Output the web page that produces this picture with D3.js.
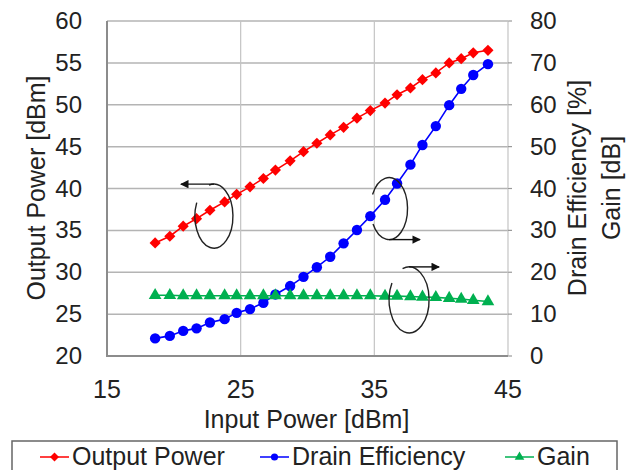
<!DOCTYPE html>
<html>
<head>
<meta charset="utf-8">
<script src="https://cdn.jsdelivr.net/npm/d3@7"></script>
<style>
  body { margin: 0; background: #fff; }
  svg { display: block; font-family: "Liberation Sans", Arial, sans-serif; }
</style>
</head>
<body>
<svg width="635" height="470"></svg>
<script>
// Data
const inputPower = [18.6, 19.7, 20.7, 21.7, 22.7, 23.8, 24.7, 25.7, 26.7, 27.6,
  28.7, 29.7, 30.7, 31.7, 32.7, 33.7, 34.7, 35.8, 36.7, 37.7,
  38.6, 39.6, 40.6, 41.5, 42.4, 43.5];
const outputPower = [33.5, 34.3, 35.5, 36.4, 37.4, 38.4, 39.3, 40.2, 41.2, 42.2,
  43.3, 44.4, 45.4, 46.4, 47.3, 48.4, 49.3, 50.2, 51.2, 52.0,
  53.0, 53.8, 55.0, 55.5, 56.2, 56.5];
const drainEff = [4.2, 4.8, 6.0, 6.6, 8.0, 8.8, 10.3, 11.2, 12.7, 14.7,
  16.7, 18.9, 21.2, 23.7, 26.9, 30.1, 33.4, 37.3, 41.2, 45.7,
  50.4, 54.9, 59.9, 63.8, 67.1, 69.7];
const gain = [14.5, 14.5, 14.4, 14.4, 14.4, 14.4, 14.4, 14.4, 14.4, 14.4,
  14.4, 14.4, 14.4, 14.4, 14.4, 14.4, 14.4, 14.3, 14.3, 14.2,
  14.1, 14.0, 13.8, 13.6, 13.3, 13.0];
const xTicks = [15, 25, 35, 45];
const leftTicks = [20, 25, 30, 35, 40, 45, 50, 55, 60];
const rightTicks = [0, 10, 20, 30, 40, 50, 60, 70, 80];
const legendNames = ['Output Power', 'Drain Efficiency', 'Gain'];

const svg = d3.select('svg');
const colors = {op: '#ff0000', de: '#0000ff', g: '#00b050'};

const x = d3.scaleLinear().domain([15, 45]).range([107, 508]);
const yL = d3.scaleLinear().domain([20, 60]).range([356, 21]);
const yR = d3.scaleLinear().domain([0, 80]).range([356, 21]);

// grid
svg.append('g').selectAll('line.h')
  .data(leftTicks)
  .enter().append('line')
    .attr('x1', x(15)).attr('x2', x(45))
    .attr('y1', d => yL(d)).attr('y2', d => yL(d))
    .attr('stroke', '#b4b4b4').attr('stroke-width', 1.5);
svg.append('g').selectAll('line.v')
  .data([25, 35, 45])
  .enter().append('line')
    .attr('x1', d => x(d)).attr('x2', d => x(d))
    .attr('y1', yL(20)).attr('y2', yL(60))
    .attr('stroke', '#c4c4c4').attr('stroke-width', 1.2);

// right axis small ticks
svg.append('g').selectAll('line')
  .data(rightTicks)
  .enter().append('line')
    .attr('x1', x(45)).attr('x2', x(45) + 4)
    .attr('y1', d => yR(d)).attr('y2', d => yR(d))
    .attr('stroke', '#999').attr('stroke-width', 1.2);

// left + bottom axis lines
svg.append('path')
  .attr('d', `M${x(15)},${yL(60)} V${yL(20)} H${x(45)}`)
  .attr('fill', 'none').attr('stroke', '#8c8c8c').attr('stroke-width', 2);

// tick labels
svg.append('g').selectAll('text')
  .data(leftTicks)
  .enter().append('text')
    .attr('x', 82).attr('y', d => yL(d) + 8)
    .attr('text-anchor', 'end').attr('font-size', 24).attr('fill', '#222')
    .text(d => d);
svg.append('g').selectAll('text')
  .data(rightTicks)
  .enter().append('text')
    .attr('x', 530).attr('y', d => yR(d) + 8)
    .attr('text-anchor', 'start').attr('font-size', 24).attr('fill', '#222')
    .text(d => d);
svg.append('g').selectAll('text')
  .data(xTicks)
  .enter().append('text')
    .attr('x', d => x(d)).attr('y', 398)
    .attr('text-anchor', 'middle').attr('font-size', 25).attr('fill', '#222')
    .text(d => d);

// axis titles
svg.append('text')
  .attr('transform', `translate(${x(30) - 1},428)`)
  .attr('text-anchor', 'middle').attr('font-size', 25).attr('fill', '#222')
  .text('Input Power [dBm]');
svg.append('text')
  .attr('transform', 'translate(45,188) rotate(-90)')
  .attr('text-anchor', 'middle').attr('font-size', 25).attr('fill', '#222')
  .text('Output Power [dBm]');
svg.append('text')
  .attr('transform', 'translate(586,188) rotate(-90)')
  .attr('text-anchor', 'middle').attr('font-size', 25).attr('fill', '#222')
  .text('Drain Efficiency [%]');
svg.append('text')
  .attr('transform', 'translate(620,188) rotate(-90)')
  .attr('text-anchor', 'middle').attr('font-size', 25).attr('fill', '#222')
  .text('Gain [dB]');

// series
const series = [
  {key: 'op', vals: outputPower, y: yL, sym: d3.symbolSquare, size: 62, rot: 45},
  {key: 'de', vals: drainEff, y: yR, sym: d3.symbolCircle, size: 85, rot: 0},
  {key: 'g', vals: gain, y: yR, sym: d3.symbolTriangle, size: 70, rot: 0},
];

series.forEach(s => {
  const pts = inputPower.map((xv, i) => [x(xv), s.y(s.vals[i])]);
  svg.append('path')
    .attr('d', d3.line()(pts))
    .attr('fill', 'none')
    .attr('stroke', colors[s.key])
    .attr('stroke-width', 1.6);
  svg.append('g').selectAll('path')
    .data(pts)
    .enter().append('path')
      .attr('transform', d => `translate(${d[0]},${d[1]}) rotate(${s.rot})`)
      .attr('d', d3.symbol().type(s.sym).size(s.size))
      .attr('fill', colors[s.key]);
});

// annotations: loops with arrows
svg.append('defs').append('marker')
  .attr('id', 'arrowhead')
  .attr('viewBox', '0 -5 10 10')
  .attr('refX', 9).attr('refY', 0)
  .attr('markerWidth', 8).attr('markerHeight', 6)
  .attr('orient', 'auto')
  .append('path')
    .attr('d', 'M0,-5L10,0L0,5')
    .attr('fill', '#111');

const loops = [
  {cx: 23.0, cy: 36.7, rx: 19, ry: 32, gapFrom: 205, gapTo: 255, arrowAt: 270, dx: -33},
  {cx: 36.1, cy: 37.6, rx: 18.5, ry: 31, gapFrom: 150, gapTo: 207, arrowAt: 90, dx: 31},
  {cx: 37.6, cy: 26.7, rx: 20, ry: 33, gapFrom: 211, gapTo: 251, arrowAt: 270, dx: 30},
];
const rad = Math.PI / 180;

loops.forEach(l => {
  const cx = x(l.cx), cy = yL(l.cy);
  const pt = t => [cx + l.rx * Math.cos(t * rad), cy + l.ry * Math.sin(t * rad)];
  const s = pt(l.gapTo), e = pt(l.gapFrom + 360);
  svg.append('path')
    .attr('d', `M${s[0]},${s[1]} A${l.rx},${l.ry} 0 1 1 ${e[0]},${e[1]}`)
    .attr('fill', 'none').attr('stroke', '#222').attr('stroke-width', 1.4);
  const a = pt(l.arrowAt);
  svg.append('line')
    .attr('x1', a[0]).attr('y1', a[1])
    .attr('x2', a[0] + l.dx).attr('y2', a[1])
    .attr('stroke', '#111').attr('stroke-width', 1.4)
    .attr('marker-end', 'url(#arrowhead)');
});

// legend
const legend = svg.append('g');
legend.append('rect')
  .attr('x', 12).attr('y', 441).attr('width', 605).attr('height', 40)
  .attr('fill', '#fff').attr('stroke', '#666').attr('stroke-width', 1.5);
const legendX = [40, 260, 505];
const legendSym = [d3.symbolSquare, d3.symbolCircle, d3.symbolTriangle];
const legendRot = [45, 0, 0];
const legendCol = [colors.op, colors.de, colors.g];
legendNames.forEach((name, i) => {
  const lx = legendX[i];
  legend.append('line')
    .attr('x1', lx).attr('x2', lx + 29)
    .attr('y1', 457).attr('y2', 457)
    .attr('stroke', legendCol[i]).attr('stroke-width', 1.5);
  legend.append('path')
    .attr('transform', `translate(${lx + 14.5},457) rotate(${legendRot[i]})`)
    .attr('d', d3.symbol().type(legendSym[i]).size(40))
    .attr('fill', legendCol[i]);
  legend.append('text')
    .attr('x', lx + 32).attr('y', 465)
    .attr('font-size', 25).attr('fill', '#222')
    .text(name);
});
</script>
</body>
</html>
